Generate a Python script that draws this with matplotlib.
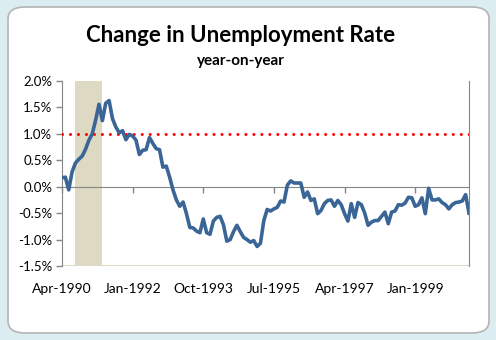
import matplotlib
matplotlib.use("Agg")
import matplotlib.pyplot as plt
from matplotlib.patches import FancyBboxPatch
from matplotlib.ticker import FuncFormatter

plt.rcParams['font.family'] = ['Lato', 'DejaVu Sans']

# monthly year-on-year change in unemployment rate (%), Apr-1990 onwards
change = [
    0.17, 0.18, -0.06, 0.28, 0.45, 0.52, 0.58, 0.71, 0.88, 1.00,
    1.26, 1.56, 1.25, 1.58, 1.63, 1.29, 1.13, 1.02, 1.06, 0.89,
    0.99, 0.96, 0.88, 0.61, 0.69, 0.70, 0.93, 0.82, 0.72, 0.70,
    0.37, 0.39, 0.18, -0.06, -0.25, -0.37, -0.29, -0.51, -0.77, -0.78,
    -0.84, -0.87, -0.61, -0.87, -0.90, -0.65, -0.58, -0.56, -0.72, -1.03,
    -1.00, -0.85, -0.73, -0.85, -0.96, -1.00, -1.05, -1.02, -1.13, -1.07,
    -0.64, -0.43, -0.46, -0.42, -0.39, -0.27, -0.29, 0.03, 0.11, 0.07,
    0.07, 0.07, -0.20, -0.10, -0.26, -0.23, -0.51, -0.45, -0.32, -0.26,
    -0.25, -0.37, -0.26, -0.34, -0.51, -0.65, -0.32, -0.58, -0.30, -0.34,
    -0.50, -0.73, -0.67, -0.64, -0.64, -0.56, -0.48, -0.70, -0.48, -0.46,
    -0.34, -0.35, -0.31, -0.20, -0.21, -0.37, -0.34, -0.21, -0.51, -0.03,
    -0.25, -0.25, -0.23, -0.30, -0.34, -0.42, -0.34, -0.30, -0.29, -0.27,
    -0.15, -0.50,
]
months = list(range(len(change)))

tick_pos = [0, 21, 42, 63, 84, 105]
tick_labels = ["Apr-1990", "Jan-1992", "Oct-1993", "Jul-1995", "Apr-1997", "Jan-1999"]
y_ticks = [-1.5, -1.0, -0.5, 0.0, 0.5, 1.0, 1.5, 2.0]

recession = [3.9, 11.9]   # shaded span on the month axis
threshold = 1.0

fig = plt.figure(figsize=(4.96, 3.40), dpi=100)
fig.patch.set_facecolor("#dcedf1")

# white chart area with rounded grey border
frame = FancyBboxPatch((8 / 496, 7 / 340), 481 / 496, 326 / 340,
                       boxstyle="round,pad=0,rounding_size=0.035",
                       transform=fig.transFigure, facecolor="white",
                       edgecolor="#b4b4b4", linewidth=1.2, zorder=-5)
fig.patches.append(frame)

ax = fig.add_axes([62 / 496, 1 - 266 / 340, 407 / 496, 185 / 340])
ax.set_facecolor("none")
ax.set_zorder(2)

ax.axvspan(recession[0], recession[1], color="#ddd9c3", lw=0, zorder=1)
ax.axhline(-1.5, color="#ddd9c3", lw=1.5, zorder=1)
ax.axhline(threshold, color="#ff0000", lw=2.2, dashes=(0.01, 2.6),
           dash_capstyle="round", zorder=3)
ax.plot(months, change, color="#3a6597", lw=2.6, solid_joinstyle="round", zorder=4)

ax.set_xlim(0, len(change) - 1)
ax.set_ylim(-1.5, 2.0)

ax.set_yticks(y_ticks)
ax.yaxis.set_major_formatter(FuncFormatter(lambda v, p: f"{v:.1f}%"))
ax.tick_params(axis="y", direction="out", length=4, width=1, color="#868686",
               labelsize=9.5, pad=3)

# category axis crosses at zero; labels sit below the plot
ax.spines["bottom"].set_position(("data", 0))
ax.spines["bottom"].set_color("#868686")
ax.spines["left"].set_color("#868686")
ax.spines["right"].set_color("#868686")
ax.spines["top"].set_visible(False)
ax.set_xticks(tick_pos)
ax.tick_params(axis="x", direction="out", length=4, width=1, color="#868686",
               labelbottom=False)

sec = ax.secondary_xaxis(0)
sec.set_xticks(tick_pos)
sec.set_xticklabels(tick_labels)
sec.tick_params(axis="x", length=0, labelsize=10, pad=12)
sec.spines["bottom"].set_visible(False)

fig.text(241 / 496, 1 - 36 / 340, "Change in Unemployment Rate",
         ha="center", va="center", fontsize=16, fontweight="bold")
fig.text(241 / 496, 1 - 61 / 340, "year-on-year",
         ha="center", va="center", fontsize=11, fontweight="bold")

fig.savefig("out.png", dpi=100, facecolor=fig.get_facecolor())
